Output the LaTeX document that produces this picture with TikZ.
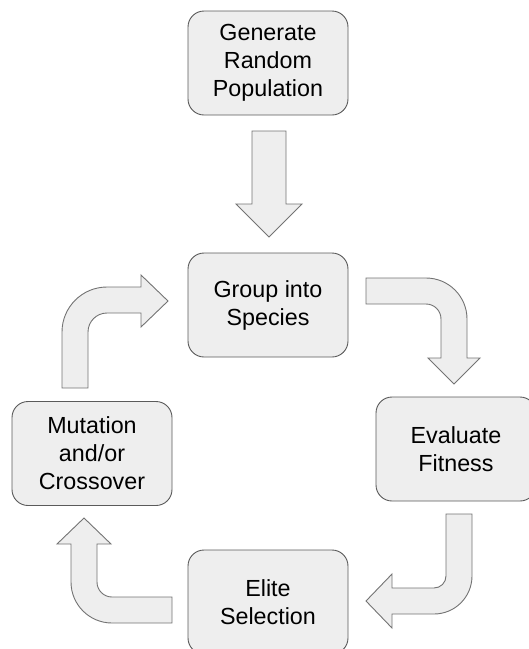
\documentclass[tikz,border=0pt]{standalone}
\usepackage{fontspec}
\setmainfont{Liberation Sans}
\definecolor{boxfill}{RGB}{238,238,238}
\definecolor{boxline}{RGB}{90,90,90}
\definecolor{arrline}{RGB}{115,115,115}
\begin{document}
\begin{tikzpicture}[x=1pt,y=1pt,
  stage/.style={draw=boxline, fill=boxfill, line width=0.9pt, rounded corners=16pt,
    minimum width=160pt, minimum height=104pt, align=center, inner sep=0pt,
    font=\fontsize{23.3}{28}\selectfont},
  blockarrow/.style={draw=arrline, fill=boxfill, line width=0.9pt, line join=miter}]
\useasboundingbox (0,0) rectangle (529,-649);
\clip (0,0) rectangle (529,-649);

% stages
\node[stage] (gen) at (268,-63) {Generate\\Random\\Population};
\node[stage] (grp) at (268,-305) {Group into\\Species};
\node[stage] (eval) at (456,-449) {Evaluate\\Fitness};
\node[stage] (elite) at (268,-602) {Elite\\Selection};
\node[stage] (mut) at (92,-453.5) {Mutation\\and/or\\Crossover};

% straight down arrow: gen -> grp
\draw[blockarrow] (252,-131) -- (286,-131) -- (286,-204) -- (302,-204) -- (269,-237)
  -- (236,-204) -- (252,-204) -- cycle;

% grp -> eval (curved, top right)
\draw[blockarrow] (366,-278) -- (426,-278) arc[start angle=90, end angle=0, radius=41]
  -- (467,-358) -- (480,-358) -- (454,-384) -- (428,-358) -- (441,-358) -- (441,-319)
  arc[start angle=0, end angle=90, radius=15] -- (366,-304) -- cycle;

% eval -> elite (curved, bottom right)
\draw[blockarrow] (446,-514) -- (472,-514) -- (472,-576)
  arc[start angle=0, end angle=-90, radius=38] -- (392,-614) -- (392,-628) -- (366,-601)
  -- (392,-574) -- (392,-588) -- (434,-588) arc[start angle=-90, end angle=0, radius=12]
  -- cycle;

% elite -> mut (curved, bottom left)
\draw[blockarrow] (172,-597) -- (112,-597) arc[start angle=-90, end angle=-180, radius=15]
  -- (97,-544) -- (111,-544) -- (84,-518) -- (57,-544) -- (71,-544) -- (71,-582)
  arc[start angle=180, end angle=270, radius=41] -- (172,-623) -- cycle;

% mut -> grp (curved, top left)
\draw[blockarrow] (62,-388) -- (62,-332) arc[start angle=180, end angle=90, radius=45]
  -- (141,-287) -- (141,-275) -- (168,-301) -- (141,-327) -- (141,-313) -- (107,-313)
  arc[start angle=90, end angle=180, radius=19] -- (88,-388) -- cycle;
\end{tikzpicture}
\end{document}
